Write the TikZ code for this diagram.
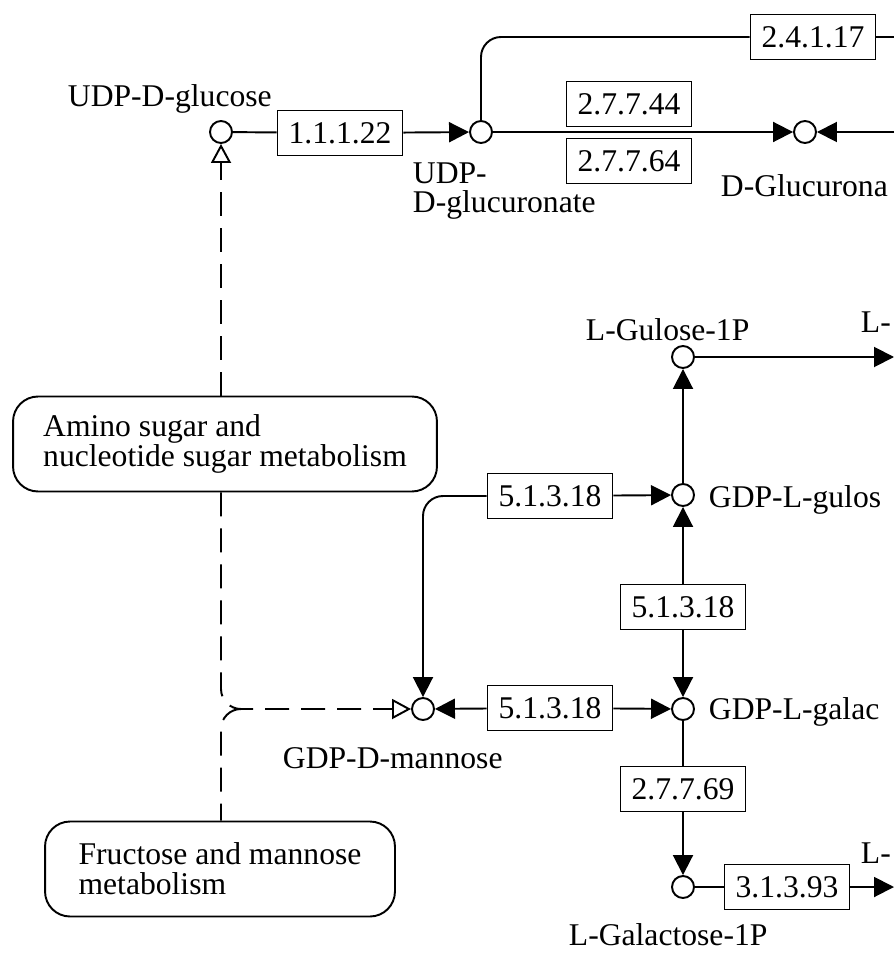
\documentclass[tikz,border=0pt]{standalone}
\usepackage{fontspec}
\setmainfont{Liberation Serif}
\usetikzlibrary{arrows.meta}

\begin{document}
\begin{tikzpicture}[
		x=0.02cm,
		y=-0.02cm,
		line width=1.1pt,
		every node/.style={font=\fontsize{18}{17}\selectfont, inner sep=0pt},
		ChatTron/.style={draw, circle, minimum size=0.44cm, fill=white},
		HopEnzym/.style={draw, rectangle, minimum width=2.5cm, minimum height=0.9cm, fill=white},
		HopBanDo/.style={draw, rounded corners=0.5cm, align=left, minimum height=1.9cm},
		MuiTen/.style={-{Triangle[length=0.4cm,width=0.4cm]}},
		MuiRong/.style={-{Triangle[open,length=0.38cm,width=0.4cm]}},
		NetDut/.style={dash pattern=on 0.48cm off 0.24cm}
	]
		\useasboundingbox (0,0) rectangle (894,959);
		\clip (0,0) rectangle (894,959);

		% ===== CÁC CHẤT =====
		\node[ChatTron] (UdpGlc) at (221,132) {};
		\node[ChatTron] (UdpGlcA) at (481,132) {};
		\node[ChatTron] (GlcA) at (805,132) {};
		\node[ChatTron] (GulP) at (683,357) {};
		\node[ChatTron] (GdpGul) at (683,495) {};
		\node[ChatTron] (GdpMan) at (423,709) {};
		\node[ChatTron] (GdpGal) at (683,709) {};
		\node[ChatTron] (GalP) at (683,887) {};

		% ===== TÊN CHẤT =====
		\node[anchor=base west] (UdpGlcChu) at (67,107) {UDP-D-glucose};
		\node[anchor=base west, align=left] (UdpGlcAChu) at (412,213) {UDP-\\D-glucuronate};
		\node[anchor=base west] (GlcAChu) at (720,197) {D-Glucurona};
		\node[anchor=base west] (GulPChu) at (585,340) {L-Gulose-1P};
		\node[anchor=base west] (GulChu) at (860,332) {L-};
		\node[anchor=base west] (GdpGulChu) at (708,507) {GDP-L-gulos};
		\node[anchor=base west] (GdpGalChu) at (708,719) {GDP-L-galac};
		\node[anchor=base west] (GdpManChu) at (282,768) {GDP-D-mannose};
		\node[anchor=base west] (GalPChu) at (568,945) {L-Galactose-1P};
		\node[anchor=base west] (GalChu) at (860,863) {L-};

		% ===== ENZYM =====
		\node[HopEnzym] (E11122) at (340,133) {1.1.1.22};
		\node[HopEnzym] (E24117) at (813,37) {2.4.1.17};
		\node[HopEnzym] (E27744) at (629,104) {2.7.7.44};
		\node[HopEnzym] (E27764) at (629,161) {2.7.7.64};
		\node[HopEnzym] (E51318a) at (550,496) {5.1.3.18};
		\node[HopEnzym] (E51318b) at (683,607) {5.1.3.18};
		\node[HopEnzym] (E51318c) at (550,708) {5.1.3.18};
		\node[HopEnzym] (E27769) at (683,789) {2.7.7.69};
		\node[HopEnzym] (E31393) at (787,887) {3.1.3.93};

		% ===== BẢN ĐỒ =====
		\node[HopBanDo, minimum width=8.48cm] (Amino) at (225,444)
			{Amino sugar and\\nucleotide sugar metabolism};
		\node[HopBanDo, minimum width=7cm] (Fru) at (220,869)
			{Fructose and mannose\\metabolism};

		% ===== ĐIỂM MÉP =====
		\coordinate (PhaiE24117) at (894,37);
		\coordinate (PhaiGlcA) at (894,132);
		\coordinate (PhaiGulP) at (894,357);
		\coordinate (PhaiGalP) at (894,887);
		\coordinate (NoiDut) at (243,709);

		% ===== PHẢN ỨNG =====
		\draw (UdpGlc) -- (E11122);
		\draw[MuiTen] (E11122) -- (UdpGlcA);
		\draw[rounded corners=0.4cm] (UdpGlcA) |- (E24117);
		\draw (E24117) -- (PhaiE24117);
		\draw[MuiTen] (UdpGlcA) -- (GlcA);
		\draw[MuiTen] (PhaiGlcA) -- (GlcA);
		\draw[MuiTen] (GulP) -- (PhaiGulP);
		\draw[MuiTen] (GdpGul) -- (GulP);
		\draw[MuiTen] (E51318a) -- (GdpGul);
		\draw[MuiTen, rounded corners=0.4cm] (E51318a) -| (GdpMan);
		\draw[MuiTen] (E51318b) -- (GdpGul);
		\draw[MuiTen] (E51318b) -- (GdpGal);
		\draw[MuiTen] (E51318c) -- (GdpMan);
		\draw[MuiTen] (E51318c) -- (GdpGal);
		\draw (GdpGal) -- (E27769);
		\draw[MuiTen] (E27769) -- (GalP);
		\draw (GalP) -- (E31393);
		\draw[MuiTen] (E31393) -- (PhaiGalP);

		% ===== ĐƯỜNG ĐỨT NÉT =====
		\draw[NetDut, MuiRong] (Amino.north -| UdpGlc) -- (UdpGlc);
		\draw[NetDut, MuiRong, rounded corners=0.4cm] (Amino.south -| UdpGlc) |- (GdpMan);
		\draw[NetDut, rounded corners=0.4cm] (NoiDut) -| (Fru.north -| UdpGlc);

	\end{tikzpicture}
\end{document}
